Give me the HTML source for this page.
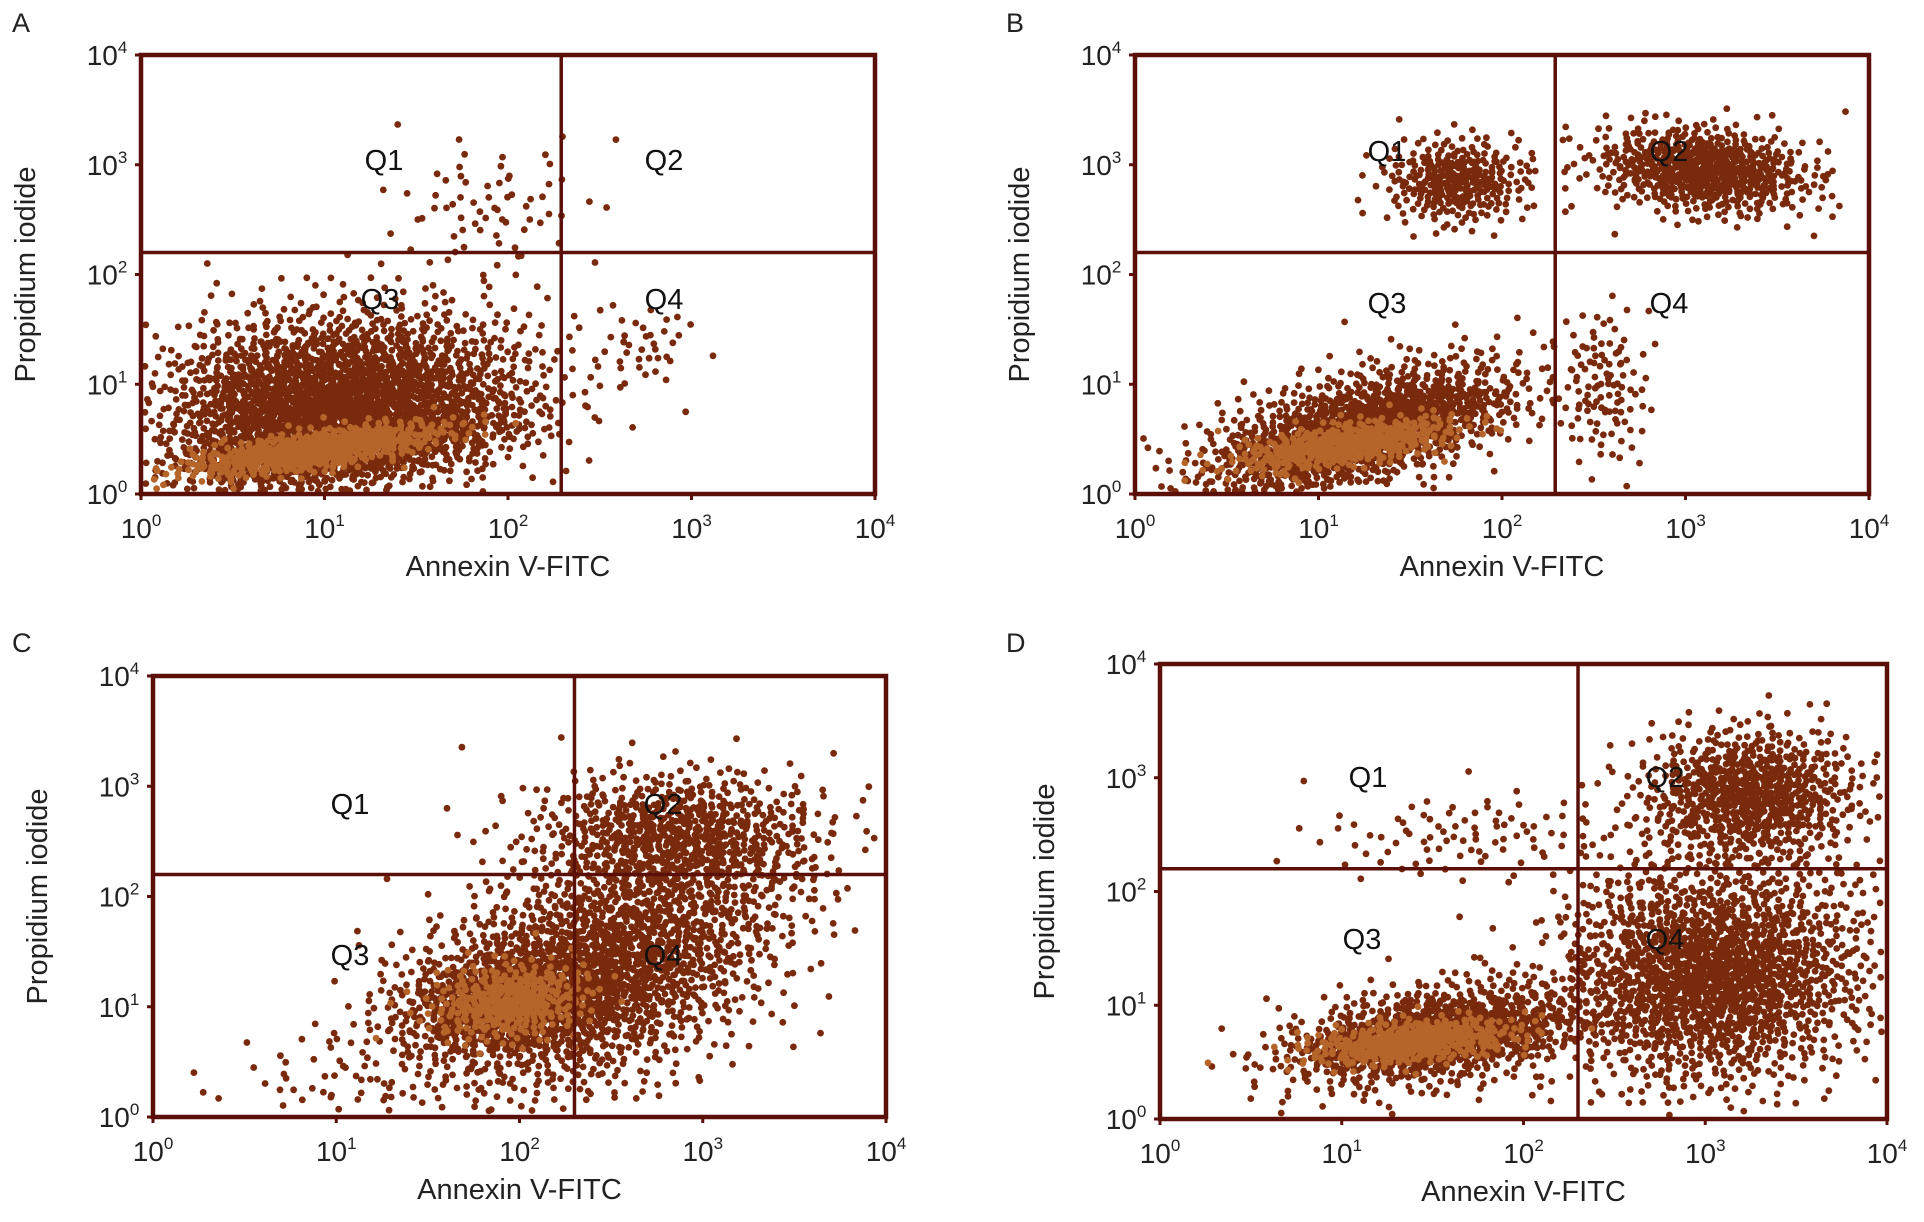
<!DOCTYPE html>
<html><head><meta charset="utf-8">
<style>
html,body{margin:0;padding:0;background:#fff;}
svg{display:block;font-family:"Liberation Sans",sans-serif;}
</style></head>
<body>
<svg id="fig" width="1924" height="1222" viewBox="0 0 1924 1222" xmlns="http://www.w3.org/2000/svg"></svg>
<script>
// Panel layout (pixel boxes) and quadrant gates (log10 units)
const panelLetters = ["A","B","C","D"];
const gateXLog = [2.29, 2.29, 2.30, 2.30];
const gateYLog = [2.2, 2.2, 2.2, 2.2];
const tickLabels = ["0","1","2","3","4"];
const quadLabels = ["Q1","Q2","Q3","Q4"];

// Cluster data per panel (log10 Annexin, log10 PI, spreads, counts, correlation)
const clusterXA = [1.15, 1.15, 1.9, 2.75, 0.7];
const clusterYA = [0.85, 0.45, 2.6, 1.35, 0.8];
const clusterSXA = [0.5, 0.45, 0.28, 0.13, 0.3];
const clusterSYA = [0.42, 0.2, 0.32, 0.18, 0.4];
const clusterNA = [1900, 700, 70, 35, 400];
const clusterRA = [0.15, 0.55, 0.1, 0.0, 0.0];

const clusterXB = [1.15, 1.35, 1.75, 3.1, 2.55];
const clusterYB = [0.55, 0.6, 2.85, 2.95, 0.95];
const clusterSXB = [0.45, 0.35, 0.2, 0.3, 0.13];
const clusterSYB = [0.35, 0.22, 0.2, 0.2, 0.38];
const clusterNB = [1000, 600, 300, 650, 110];
const clusterRB = [0.6, 0.6, 0.0, -0.2, 0.0];

const clusterXC = [2.35, 1.9, 2.85, 1.0, 2.6];
const clusterYC = [1.25, 1.05, 2.55, 0.35, 1.5];
const clusterSXC = [0.5, 0.3, 0.4, 0.4, 0.5];
const clusterSYC = [0.55, 0.25, 0.3, 0.3, 0.55];
const clusterNC = [1300, 500, 700, 60, 600];
const clusterRC = [0.35, 0.2, 0.0, 0.4, 0.5];

const clusterXD = [1.55, 1.45, 3.1, 3.25, 1.7, 2.7];
const clusterYD = [0.75, 0.7, 1.25, 2.85, 2.5, 1.5];
const clusterSXD = [0.45, 0.3, 0.42, 0.3, 0.45, 0.3];
const clusterSYD = [0.25, 0.14, 0.5, 0.3, 0.2, 0.5];
const clusterND = [800, 500, 1500, 750, 90, 250];
const clusterRD = [0.4, 0.4, 0.1, 0.0, 0.2, 0.0];

// Dense core regions (lighter orange), per panel
const coreXA = [0.95], coreYA = [0.4], coreSXA = [0.35], coreSYA = [0.12], coreNA = [700], coreRA = [0.7];
const coreXB = [1.15], coreYB = [0.45], coreSXB = [0.3], coreSYB = [0.12], coreNB = [500], coreRB = [0.6];
const coreXC = [1.95], coreYC = [1.05], coreSXC = [0.22], coreSYC = [0.18], coreNC = [350], coreRC = [0.2];
const coreXD = [1.4], coreYD = [0.68], coreSXD = [0.28], coreSYD = [0.1], coreND = [500], coreRD = [0.4];

const panelClusters = [
  [clusterXA,clusterYA,clusterSXA,clusterSYA,clusterNA,clusterRA],
  [clusterXB,clusterYB,clusterSXB,clusterSYB,clusterNB,clusterRB],
  [clusterXC,clusterYC,clusterSXC,clusterSYC,clusterNC,clusterRC],
  [clusterXD,clusterYD,clusterSXD,clusterSYD,clusterND,clusterRD]];
const panelCores = [
  [coreXA,coreYA,coreSXA,coreSYA,coreNA,coreRA],
  [coreXB,coreYB,coreSXB,coreSYB,coreNB,coreRB],
  [coreXC,coreYC,coreSXC,coreSYC,coreNC,coreRC],
  [coreXD,coreYD,coreSXD,coreSYD,coreND,coreRD]];

const boxes = [
  {l:141,r:875,t:55,b:494, lx:12,ly:32},
  {l:1135,r:1869,t:55,b:494, lx:1006,ly:32},
  {l:153,r:886,t:676,b:1117, lx:12,ly:652},
  {l:1160,r:1887,t:664,b:1119, lx:1006,ly:652}];
const quadPos = [
  [[384,170],[664,170],[380,309],[664,309]],
  [[1387,161],[1669,161],[1387,313],[1669,313]],
  [[350,814],[663,814],[350,965],[663,965]],
  [[1368,787],[1665,787],[1362,949],[1665,949]]];

const NS="http://www.w3.org/2000/svg";
const svg=document.getElementById('fig');
function mk(tag,attrs,parent){const e=document.createElementNS(NS,tag);for(const k in attrs)e.setAttribute(k,attrs[k]);(parent||svg).appendChild(e);return e;}
function halton(i,b){let f=1,r=0;while(i>0){f/=b;r+=f*(i%b);i=Math.floor(i/b);}return r;}

boxes.forEach((B,p)=>{
  const g=mk('g',{});
  
  
  const xs=v=>B.l+(B.r-B.l)*v/4;
  const ys=v=>B.b-(B.b-B.t)*v/4;
  const pts=mk('g',{},g);
  
  
  let off=p*9973+17;
  function drawSet(set,color,rad){
    const [cx,cy,sx,sy,n,rr]=set;
    for(let c=0;c<cx.length;c++){
      for(let i=0;i<n[c];i++){
        const k=off+i;
        const u1=Math.max(1e-6,halton(k,2)), u2=halton(k,3);
        const R=Math.sqrt(-2*Math.log(u1));
        const z1=R*Math.cos(2*Math.PI*u2), z2=R*Math.sin(2*Math.PI*u2);
        const vx=cx[c]+sx[c]*z1;
        const vy=cy[c]+sy[c]*(rr[c]*z1+Math.sqrt(1-rr[c]*rr[c])*z2);
        if(vx<0.02||vx>3.98||vy<0.02||vy>3.98)continue;
        const d=mk('circle',{cx:xs(vx).toFixed(1),cy:ys(vy).toFixed(1),r:rad,fill:color},pts);
        
        
      }
      off+=n[c]+131;
    }
  }
  drawSet(panelClusters[p],'#7a2a0c',3.4);
  drawSet(panelCores[p],'#b5652a',3.4);

  const st='#5a0f08';
  const box=mk('rect',{x:B.l,y:B.t,width:B.r-B.l,height:B.b-B.t,fill:'none',stroke:st,'stroke-width':4.5},g);
  
  
  const vg=mk('line',{x1:xs(gateXLog[p]),x2:xs(gateXLog[p]),y1:B.t,y2:B.b,stroke:st,'stroke-width':3.5},g);
  
  
  const hg=mk('line',{x1:B.l,x2:B.r,y1:ys(gateYLog[p]),y2:ys(gateYLog[p]),stroke:st,'stroke-width':3.5},g);
  
  

  tickLabels.forEach((t,i)=>{
    const xt=mk('text',{x:xs(i),y:B.b+44,'text-anchor':'middle','font-size':28,fill:'#222'},g);
    
    
    xt.innerHTML='10<tspan dy="-12" font-size="17">'+t+'</tspan>';
    const yt=mk('text',{x:B.l-34,y:ys(i)+10,'text-anchor':'middle','font-size':28,fill:'#222'},g);
    
    
    yt.innerHTML='10<tspan dy="-12" font-size="17">'+t+'</tspan>';
    mk('line',{x1:xs(i),x2:xs(i),y1:B.b,y2:B.b+6,stroke:st,'stroke-width':3},g);
    mk('line',{x1:B.l-6,x2:B.l,y1:ys(i),y2:ys(i),stroke:st,'stroke-width':3},g);
  });
  const xtit=mk('text',{x:(B.l+B.r)/2,y:B.b+82,'text-anchor':'middle','font-size':29,fill:'#222'},g);
  
  
  xtit.textContent='Annexin V-FITC';
  const ym=(B.t+B.b)/2, yx=B.l-106;
  const ytit=mk('text',{x:yx,y:ym,'text-anchor':'middle','font-size':29,fill:'#222',transform:`rotate(-90 ${yx} ${ym})`},g);
  
  
  ytit.textContent='Propidium iodide';
  const let_=mk('text',{x:B.lx,y:B.ly,'font-size':27,fill:'#222'},g);
  
  
  let_.textContent=panelLetters[p];
  quadLabels.forEach((q,i)=>{
    const t=mk('text',{x:quadPos[p][i][0],y:quadPos[p][i][1],'text-anchor':'middle','font-size':29,fill:'#111'},g);
    
    
    t.textContent=q;
  });
});
</script>
</body></html>
